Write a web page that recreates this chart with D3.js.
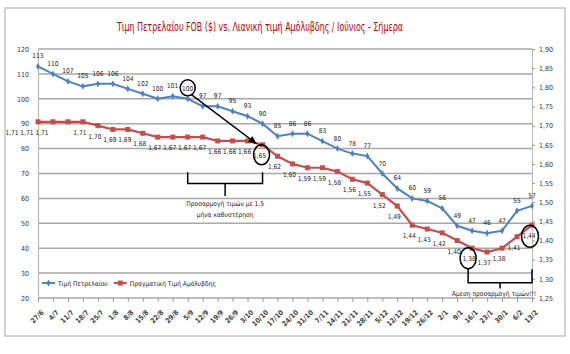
<!DOCTYPE html>
<html>
<head>
<meta charset="utf-8">
<script src="https://cdn.jsdelivr.net/npm/d3@7"></script>
<style>
  body { margin: 0; background: #fff; }
  text { font-family: "Liberation Sans Narrow", "DejaVu Sans Condensed", "Arial Narrow", sans-serif; }
</style>
</head>
<body>
<script>
// categories (weekly dates) and the two series
let dates = ["27/6","4/7","11/7","18/7","25/7","1/8","8/8","15/8","22/8","29/8","5/9","12/9","19/9","26/9",
  "3/10","10/10","17/10","24/10","31/10","7/11","14/11","21/11","28/11","5/12","12/12","19/12","26/12",
  "2/1","9/1","16/1","23/1","30/1","6/2","13/2"];

let oilPrice = [113,110,107,105,106,106,104,102,100,101,100,97,97,95,93,90,85,86,86,83,80,78,77,70,64,60,59,56,49,47,46,47,55,57];

let petrolPrice = [1.71,1.71,1.71,1.71,1.70,1.69,1.69,1.68,1.67,1.67,1.67,1.67,1.66,1.66,1.66,1.65,1.62,1.60,1.59,1.59,
  1.58,1.56,1.55,1.52,1.49,1.44,1.43,1.42,1.40,1.38,1.37,1.38,1.41,1.44];

let leftTicks = [20,30,40,50,60,70,80,90,100,110,120];
let rightTicks = [1.25,1.30,1.35,1.40,1.45,1.50,1.55,1.60,1.65,1.70,1.75,1.80,1.85,1.90];

let seriesNames = ["Τιμή Πετρελαίου", "Πραγματική Τιμή Αμόλυβδης"];
let titleText = "Τιμη Πετρελαίου FOB ($) vs. Λιανική τιμή Αμόλυβδης / Ιούνιος - Σήμερα";
let note1 = ["Προσαρμογή τιμών με 1,5", "μήνα καθυστέρηση"];
let note2 = "Άμεση προσαρμογή τιμών!!!";

let W = 570, H = 354;
let margin = {top: 49, right: 38, bottom: 56, left: 38};
let blue = "#4f81bd", red = "#c0504d";
let lblSize = "6.6px";

let svg = d3.select("body").append("svg")
    .attr("width", W)
    .attr("height", H);

// outer chart frame
svg.append("rect")
    .attr("x", 5).attr("y", 8)
    .attr("width", 560).attr("height", 328)
    .attr("fill", "#fff")
    .attr("stroke", "#c4c4c4")
    .attr("stroke-width", 1.5);

// title
svg.append("text")
    .attr("x", 260).attr("y", 31)
    .attr("text-anchor", "middle")
    .attr("fill", "#c00000")
    .attr("textLength", 286)
    .attr("lengthAdjust", "spacingAndGlyphs")
    .style("font-size", "12.5px")
    .text(titleText);

// scales
let xScale = d3.scalePoint().domain(dates).range([margin.left, W - margin.right]);
let yLeft = d3.scaleLinear().domain([20, 120]).range([H - margin.bottom, margin.top]);
let yRight = d3.scaleLinear().domain([1.25, 1.90]).range([H - margin.bottom, margin.top]);

let fmtComma = function(v) { return v.toFixed(2).replace(".", ","); };

// gridlines
svg.append("g")
  .selectAll("line")
    .data(leftTicks)
  .enter().append("line")
    .attr("x1", margin.left).attr("x2", W - margin.right)
    .attr("y1", function(d) { return yLeft(d); })
    .attr("y2", function(d) { return yLeft(d); })
    .attr("stroke", "#a8a8a8")
    .attr("stroke-width", 1.5);

// left axis
let leftAxis = svg.append("g")
    .attr("transform", "translate(" + margin.left + ",0)")
    .call(d3.axisLeft(yLeft).tickValues(leftTicks).tickSize(0).tickPadding(9));
leftAxis.select(".domain").attr("stroke", "#b8b8b8").attr("stroke-width", 1.2);
leftAxis.selectAll("text").style("font-size", "7px").attr("fill", "#333");

// right axis
let rightAxis = svg.append("g")
    .attr("transform", "translate(" + (W - margin.right) + ",0)")
    .call(d3.axisRight(yRight).tickValues(rightTicks).tickSize(3).tickPadding(4).tickFormat(fmtComma));
rightAxis.select(".domain").attr("stroke", "#b8b8b8").attr("stroke-width", 1);
rightAxis.selectAll(".tick line").attr("stroke", "#999");
rightAxis.selectAll("text").style("font-size", "7px").attr("fill", "#333");

// bottom axis
let xAxis = svg.append("g")
    .attr("transform", "translate(0," + (H - margin.bottom) + ")")
    .call(d3.axisBottom(xScale).tickSize(4).tickPadding(0));
xAxis.select(".domain").remove();
xAxis.selectAll(".tick line").attr("stroke", "#999");
xAxis.selectAll("text")
    .style("font-size", "7px")
    .style("font-weight", "bold")
    .attr("fill", "#444")
    .attr("text-anchor", "end")
    .attr("dy", 0)
    .attr("transform", "translate(3,12) rotate(-45)");

// lines
let oilLine = d3.line()
    .x(function(d, i) { return xScale(dates[i]); })
    .y(function(d) { return yLeft(d); });
let petrolLine = d3.line()
    .x(function(d, i) { return xScale(dates[i]); })
    .y(function(d) { return yRight(d); });

svg.append("path")
    .datum(oilPrice)
    .attr("d", oilLine)
    .attr("fill", "none")
    .attr("stroke", blue)
    .attr("stroke-width", 2);

svg.append("path")
    .datum(petrolPrice)
    .attr("d", petrolLine)
    .attr("fill", "none")
    .attr("stroke", red)
    .attr("stroke-width", 2.2);

// markers
svg.selectAll(".oil_pts")
    .data(oilPrice)
  .enter().append("path")
    .attr("class", "oil_pts")
    .attr("d", d3.symbol().type(d3.symbolDiamond).size(14))
    .attr("transform", function(d, i) { return "translate(" + xScale(dates[i]) + "," + yLeft(d) + ")"; })
    .attr("fill", blue);

svg.selectAll(".petrol_pts")
    .data(petrolPrice)
  .enter().append("rect")
    .attr("class", "petrol_pts")
    .attr("x", function(d, i) { return xScale(dates[i]) - 2.5; })
    .attr("y", function(d) { return yRight(d) - 2.5; })
    .attr("width", 5).attr("height", 5)
    .attr("fill", red);

// data labels
svg.selectAll(".oil_lbl")
    .data(oilPrice)
  .enter().append("text")
    .attr("class", "oil_lbl")
    .attr("x", function(d, i) { return xScale(dates[i]); })
    .attr("y", function(d) { return yLeft(d) - 8; })
    .attr("text-anchor", "middle")
    .style("font-size", lblSize)
    .attr("fill", "#222")
    .text(function(d) { return d; });

// the first three petrol labels were dragged to the left in the original
let petrolLabelShift = [-26, -26, -26];

svg.selectAll(".petrol_lbl")
    .data(petrolPrice)
  .enter().append("text")
    .attr("class", "petrol_lbl")
    .attr("x", function(d, i) { return xScale(dates[i]) + (petrolLabelShift[i] || -3); })
    .attr("y", function(d) { return yRight(d) + 13; })
    .attr("text-anchor", "middle")
    .style("font-size", lblSize)
    .attr("fill", "#222")
    .text(function(d) { return fmtComma(d); });

// annotations
let ann = svg.append("g").attr("fill", "none").attr("stroke", "#000").attr("stroke-width", 1.5);

svg.append("defs").append("marker")
    .attr("id", "arrow")
    .attr("viewBox", "0 0 10 10")
    .attr("refX", 9).attr("refY", 5)
    .attr("markerWidth", 6).attr("markerHeight", 6)
    .attr("orient", "auto")
  .append("path")
    .attr("d", "M0,1 L9,5 L0,9 z")
    .attr("fill", "#000");

let c1 = {x: xScale(dates[10]), y: yLeft(oilPrice[10]) - 11};
let c2 = {x: xScale(dates[15]) - 1, y: yRight(petrolPrice[15]) + 10};
let c3 = {x: xScale(dates[29]) - 4, y: yRight(petrolPrice[29]) + 10};
let c4 = {x: xScale(dates[33]) - 2, y: yRight(petrolPrice[33]) + 11};

ann.append("ellipse").attr("cx", c1.x).attr("cy", c1.y).attr("rx", 7.5).attr("ry", 8);
ann.append("ellipse").attr("cx", c2.x).attr("cy", c2.y).attr("rx", 8).attr("ry", 10);
ann.append("ellipse").attr("cx", c3.x).attr("cy", c3.y).attr("rx", 8).attr("ry", 10.5);
ann.append("ellipse").attr("cx", c4.x).attr("cy", c4.y).attr("rx", 8.5).attr("ry", 11);

ann.append("line")
    .attr("x1", c1.x + 4).attr("y1", c1.y + 7)
    .attr("x2", c2.x - 5).attr("y2", c2.y - 11)
    .attr("marker-end", "url(#arrow)");

// bracket 1 (delayed adjustment)
let bx1 = xScale(dates[10]), bx2 = xScale(dates[15]), bmid = (bx1 + bx2) / 2;
ann.append("path")
    .attr("d", "M" + bx1 + "," + yLeft(70.5) + " V" + yLeft(66) + " H" + bx2 + " V" + yLeft(70.5) +
               " M" + bmid + "," + yLeft(66) + " V" + yLeft(61));
svg.append("g").selectAll("text")
    .data(note1)
  .enter().append("text")
    .attr("x", bmid)
    .attr("y", function(d, i) { return yLeft(61) + 10 + i * 11; })
    .attr("text-anchor", "middle")
    .style("font-size", lblSize)
    .attr("fill", "#222")
    .text(function(d) { return d; });

// bracket 2 (immediate adjustment)
let cx1 = c3.x, cx2 = xScale(dates[33]), cmid = xScale(dates[31]) - 2;
ann.append("path")
    .attr("d", "M" + cx1 + "," + (c3.y + 10) + " V" + yRight(1.29) + " H" + cx2 + " V" + yRight(1.325) +
               " M" + cmid + "," + yRight(1.29) + " V" + yRight(1.275));
svg.append("text")
    .attr("x", cmid - 6)
    .attr("y", yRight(1.275) + 8)
    .attr("text-anchor", "middle")
    .style("font-size", lblSize)
    .attr("fill", "#222")
    .text(note2);

// legend
let legend = svg.append("g").attr("transform", "translate(42," + yLeft(26) + ")");
let legendX = 0;
[{name: seriesNames[0], color: blue}, {name: seriesNames[1], color: red}].forEach(function(d) {
  let g = legend.append("g").attr("transform", "translate(" + legendX + ",0)");
  g.append("line").attr("x1", 0).attr("x2", 13).attr("y1", 0).attr("y2", 0)
    .attr("stroke", d.color).attr("stroke-width", 2);
  if (d.color === red) {
    g.append("rect").attr("x", 4).attr("y", -2.5).attr("width", 5).attr("height", 5).attr("fill", red);
  } else {
    g.append("path").attr("d", d3.symbol().type(d3.symbolDiamond).size(14))
      .attr("transform", "translate(6.5,0)").attr("fill", blue);
  }
  let t = g.append("text").attr("x", 16).attr("y", 2.5)
    .style("font-size", lblSize).attr("fill", "#222").text(d.name);
  legendX += 16 + t.node().getComputedTextLength() + 6;
});
</script>
</body>
</html>
